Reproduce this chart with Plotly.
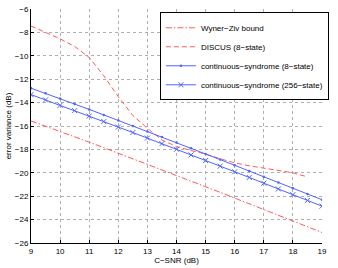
import plotly.graph_objects as go

# C-SNR (dB)
snr = [9, 9.5, 10, 10.5, 11, 11.5, 12, 12.5, 13, 13.5, 14, 14.5, 15, 15.5,
       16, 16.5, 17, 17.5, 18, 18.5, 19]

# Wyner-Ziv bound (dB)
wz = [-15.57, -16.01, -16.46, -16.92, -17.38, -17.85, -18.32, -18.79, -19.26,
      -19.74, -20.22, -20.70, -21.19, -21.67, -22.16, -22.65, -23.14, -23.63,
      -24.12, -24.61, -25.10]

# DISCUS (8-state), 9 .. 18.5 dB
snr_discus = snr[:-1]
discus = [-7.45, -8.0, -8.55, -9.2, -10.15, -11.7, -13.5, -15.1, -16.2, -17.2,
          -17.75, -18.1, -18.4, -18.8, -19.15, -19.4, -19.6, -19.8, -20.0, -20.35]

# continuous-syndrome (8-state)
cs8 = [-12.77, -13.21, -13.66, -14.12, -14.58, -15.05, -15.52, -15.99, -16.46,
       -16.94, -17.42, -17.90, -18.39, -18.87, -19.36, -19.85, -20.34, -20.83,
       -21.32, -21.81, -22.30]

# continuous-syndrome (256-state)
cs256 = [-13.32, -13.77, -14.23, -14.69, -15.15, -15.62, -16.09, -16.56, -17.03,
         -17.51, -17.99, -18.47, -18.95, -19.43, -19.91, -20.40, -20.89, -21.38,
         -21.87, -22.36, -22.85]

x_ticks = [9, 10, 11, 12, 13, 14, 15, 16, 17, 18, 19]
y_ticks = [-26, -24, -22, -20, -18, -16, -14, -12, -10, -8, -6]

RED = "rgb(255,90,90)"
BLUE = "rgb(80,100,255)"

fig = go.Figure()
fig.add_trace(go.Scatter(
    x=snr, y=wz, mode="lines", name="Wyner−Ziv bound",
    line=dict(color=RED, width=1, dash="6px,2px,1.5px,2px")))
fig.add_trace(go.Scatter(
    x=snr_discus, y=discus, mode="lines", name="DISCUS (8−state)",
    line=dict(color=RED, width=1, dash="5px,3px")))
fig.add_trace(go.Scatter(
    x=snr, y=cs8, mode="lines+markers", name="continuous−syndrome (8−state)",
    line=dict(color=BLUE, width=1),
    marker=dict(symbol="circle", size=2.5, color=BLUE)))
fig.add_trace(go.Scatter(
    x=snr, y=cs256, mode="lines+markers", name="continuous−syndrome (256−state)",
    line=dict(color=BLUE, width=1),
    marker=dict(symbol="x-thin", size=5, line=dict(color=BLUE, width=1))))

font = dict(family="Liberation Sans, Arial, sans-serif", size=8, color="black")

axis_common = dict(
    showgrid=True, gridcolor="rgb(175,175,175)", griddash="dot", gridwidth=1,
    showline=True, linecolor="black", linewidth=1, mirror=False,
    ticks="inside", ticklen=3, tickcolor="black", tickwidth=1,
    zeroline=False, automargin=False, tickfont=font,
)

fig.update_layout(
    width=338, height=268,
    margin=dict(l=31, r=9, t=9, b=25),
    paper_bgcolor="white", plot_bgcolor="white",
    font=font,
    showlegend=True,
    legend=dict(
        x=0.443, y=0.986, xanchor="left", yanchor="top",
        bgcolor="white", bordercolor="black", borderwidth=1,
        font=dict(family="Liberation Sans, Arial, sans-serif", size=8, color="black"),
        itemwidth=30, tracegroupgap=0,
    ),
    xaxis=dict(range=[9, 19], tickvals=x_ticks,
               title=dict(text="C−SNR (dB)", font=font, standoff=1),
               **axis_common),
    yaxis=dict(range=[-26, -6], tickvals=y_ticks,
               title=dict(text="error variance (dB)", font=font, standoff=2),
               **axis_common),
)

fig.write_html(
    "out.html",
    config={"displayModeBar": False},
    post_script="document.body.style.margin='0';document.body.style.overflow='hidden';",
)
